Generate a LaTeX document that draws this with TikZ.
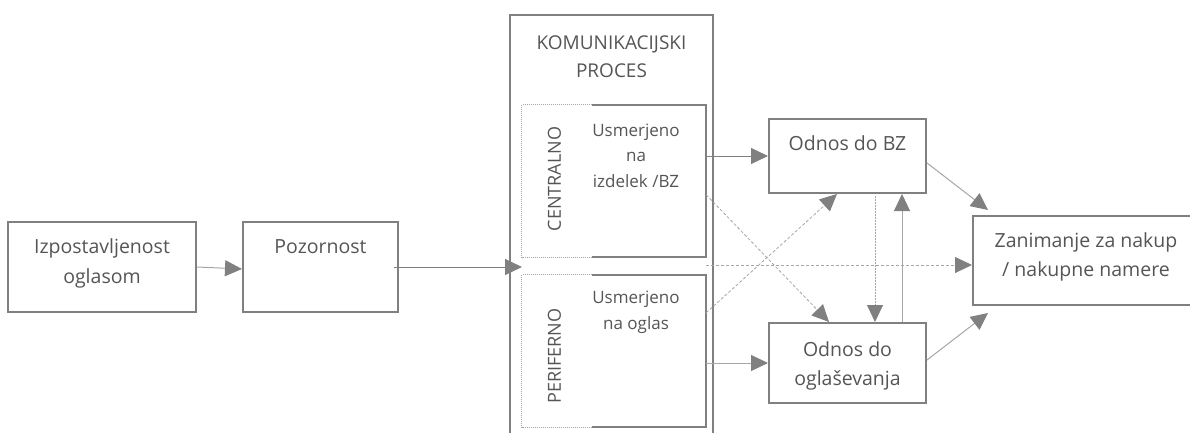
\documentclass[tikz,border=0pt]{standalone}
\usepackage{fontspec}
\setmainfont{Open Sans}
\usetikzlibrary{arrows.meta,calc}
\definecolor{linegray}{HTML}{808080}
\definecolor{lightgray}{HTML}{A6A6A6}
\definecolor{textgray}{HTML}{555555}
\tikzset{
  box/.style={draw=linegray, line width=2pt, inner sep=0pt},
  hole/.style={inner sep=0pt},
  lbl/.style={text=textgray, inner sep=0pt, align=center, anchor=base,
              font=\fontsize{19.5}{30}\selectfont},
  small/.style={text=textgray, inner sep=0pt, align=center, anchor=base,
              font=\fontsize{17}{25.5}\selectfont},
  side/.style={text=textgray, inner sep=0pt, rotate=90,
              font=\fontsize{18}{22}\selectfont},
  tip/.style={-{Triangle[length=17pt,width=16pt,color=linegray]}},
  conn/.style={tip, draw=linegray, line width=1pt},
  softconn/.style={tip, draw=lightgray, line width=1pt},
  dashconn/.style={tip, draw=lightgray, line width=0.8pt, dash pattern=on 3pt off 2pt},
  dotconn/.style={tip, draw=lightgray, line width=0.8pt, dash pattern=on 1.5pt off 1.5pt},
}
\begin{document}
\begin{tikzpicture}[x=1pt,y=-1pt]
\useasboundingbox (0,0) rectangle (1190,433);
\clip (0,0) rectangle (1190,433);

% left chain (text nodes are anchored at the baseline of their last line)
\node[box, minimum width=188pt, minimum height=90pt] (izp) at (102,267) {};
\node[box, minimum width=155pt, minimum height=90pt] (poz) at (320.5,267) {};
\node[lbl] (izpt) at (102,283) {Izpostavljenost\\oglasom};
\node[lbl] (pozt) at (320.5,253) {Pozornost};

% communication process frame (open at the bottom)
\coordinate (frametl) at (510,15);
\coordinate (frametr) at (713,15);
\draw[linegray, line width=2pt] (510,440) -- (frametl) -- (frametr) -- (713,440);
\node[lbl, font=\fontsize{19}{28}\selectfont] (proct) at (611.5,78) {KOMUNIKACIJSKI\\PROCES};

% central and peripheral route boxes
\node[hole, minimum width=184pt, minimum height=152pt] (cen) at (614,181) {};
\node[hole, minimum width=184pt, minimum height=152pt] (per) at (614,351) {};
\foreach \b in {cen,per}{
  \draw[linegray, line width=2pt]
    ($(\b.north west)+(70,0)$) -- (\b.north east) -- (\b.south east) -- ($(\b.south west)+(70,0)$);
  \draw[lightgray, line width=1.2pt, dash pattern=on 1pt off 1pt]
    ($(\b.north west)+(70,0)$) -- (\b.north west) -- (\b.south west) -- ($(\b.south west)+(70,0)$);
}
\node[side] (cent) at (554.5,179) {CENTRALNO};
\node[side] (pert) at (554.5,356) {PERIFERNO};
\node[small] (cenu) at (636,187) {Usmerjeno\\na\\izdelek /BZ};
\node[small] (peru) at (636,329) {Usmerjeno\\na oglas};

% attitudes and outcome
\node[box, minimum width=157pt, minimum height=74pt] (bz) at (847.5,156) {};
\node[box, minimum width=157pt, minimum height=80pt] (ogl) at (847.5,363) {};
\node[box, minimum width=240pt, minimum height=89pt, anchor=west] (zan) at (972,260.5) {};
\node[lbl] (bzt) at (847.5,150) {Odnos do BZ};
\node[lbl, font=\fontsize{19.5}{29}\selectfont] (oglt) at (847.5,385) {Odnos do\\ogla\v{s}evanja};
\node[lbl, font=\fontsize{19.5}{29}\selectfont] (zant) at (1086,276) {Zanimanje za nakup\\/ nakupne namere};

% connectors
\coordinate (procin) at (522,267);
\draw[softconn] (izp.east) -- ($(poz.west)+(0,2)$);
\draw[conn] ($(poz.east)+(-5,0)$) -- (procin);

\draw[conn] (cen.east |- bz.west) -- (bz.west);
\draw[softconn] (per.east |- ogl.west) -- (ogl.west);

\coordinate (cenout) at ($(cen.north east)+(0,90)$);
\coordinate (perout) at ($(per.north east)+(0,38)$);
\coordinate (midout) at (706,265);
\draw[dashconn] (cenout) -- ($(ogl.north west)+(61,0)$);
\draw[dashconn] (perout) -- ($(bz.south west)+(69,0)$);
\draw[dashconn] (midout) -- (zan.west |- midout);

\draw[dotconn] ($(bz.south west)+(107,2)$) -- ($(ogl.north west)+(107,0)$);
\draw[softconn] ($(ogl.north west)+(134,0)$) -- ($(bz.south west)+(134,0)$);

\draw[softconn] ($(bz.north east)+(0,45)$) -- ($(zan.north west)+(16,-5)$);
\draw[softconn] ($(ogl.north east)+(0,38)$) -- ($(zan.south west)+(16,7)$);
\end{tikzpicture}
\end{document}
